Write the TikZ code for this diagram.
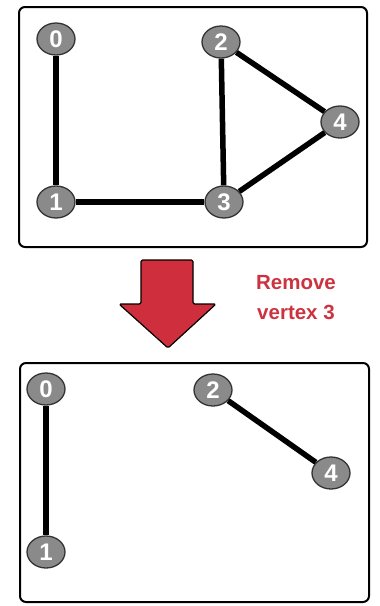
\documentclass[tikz,border=0pt]{standalone}
\usepackage{fontspec}
\setmainfont{Liberation Sans}
\usetikzlibrary{shapes.geometric,backgrounds}
\definecolor{vfill}{HTML}{8A8A8A}
\definecolor{vline}{HTML}{333333}
\definecolor{ared}{HTML}{CF2F3D}
\definecolor{tred}{HTML}{CC3340}
\tikzset{
  vert/.style={ellipse,draw=vline,line width=1.3pt,fill=vfill,minimum width=38pt,minimum height=32pt,inner sep=0pt,text=white,font=\bfseries\fontsize{24}{24}\selectfont},
  edge/.style={line width=5.5pt,black},
  frame/.style={draw=black,line width=2pt,rounded corners=6pt}
}
\begin{document}
\begin{tikzpicture}[x=1pt,y=-1pt]
\useasboundingbox (0,0) rectangle (380,606);
% top graph
\draw[frame] (19,7) rectangle (367,247);
\node[vert] (a0) at (56,39) {0};
\node[vert] (a1) at (56,202) {1};
\node[vert] (a2) at (221,42) {2};
\node[vert] (a3) at (224,202) {3};
\node[vert] (a4) at (340,122) {4};
\begin{scope}[on background layer]
\draw[edge] (a0) -- (a1);
\draw[edge] (a1) -- (a3);
\draw[edge] (a2) -- (a3);
\draw[edge] (a2) -- (a4);
\draw[edge] (a3) -- (a4);
\end{scope}
% arrow
\draw[fill=ared,draw=black,line width=1.2pt,line join=round,rounded corners=1.5pt]
  (141,260) -- (193,260) -- (193,304) -- (216,304) -- (168,348) -- (119,304) -- (141,304) -- cycle;
\node[text=tred,font=\bfseries\fontsize{20.5}{30}\selectfont,align=center] (lbl) at (296,298) {Remove\\vertex 3};
% bottom graph
\draw[frame] (20,363) rectangle (369,602);
\node[vert] (b0) at (46,389) {0};
\node[vert] (b1) at (46,552) {1};
\node[vert] (b2) at (213,390) {2};
\node[vert] (b4) at (331,473) {4};
\begin{scope}[on background layer]
\draw[edge] (b0) -- (b1);
\draw[edge] (b2) -- (b4);
\end{scope}
\end{tikzpicture}
\end{document}
